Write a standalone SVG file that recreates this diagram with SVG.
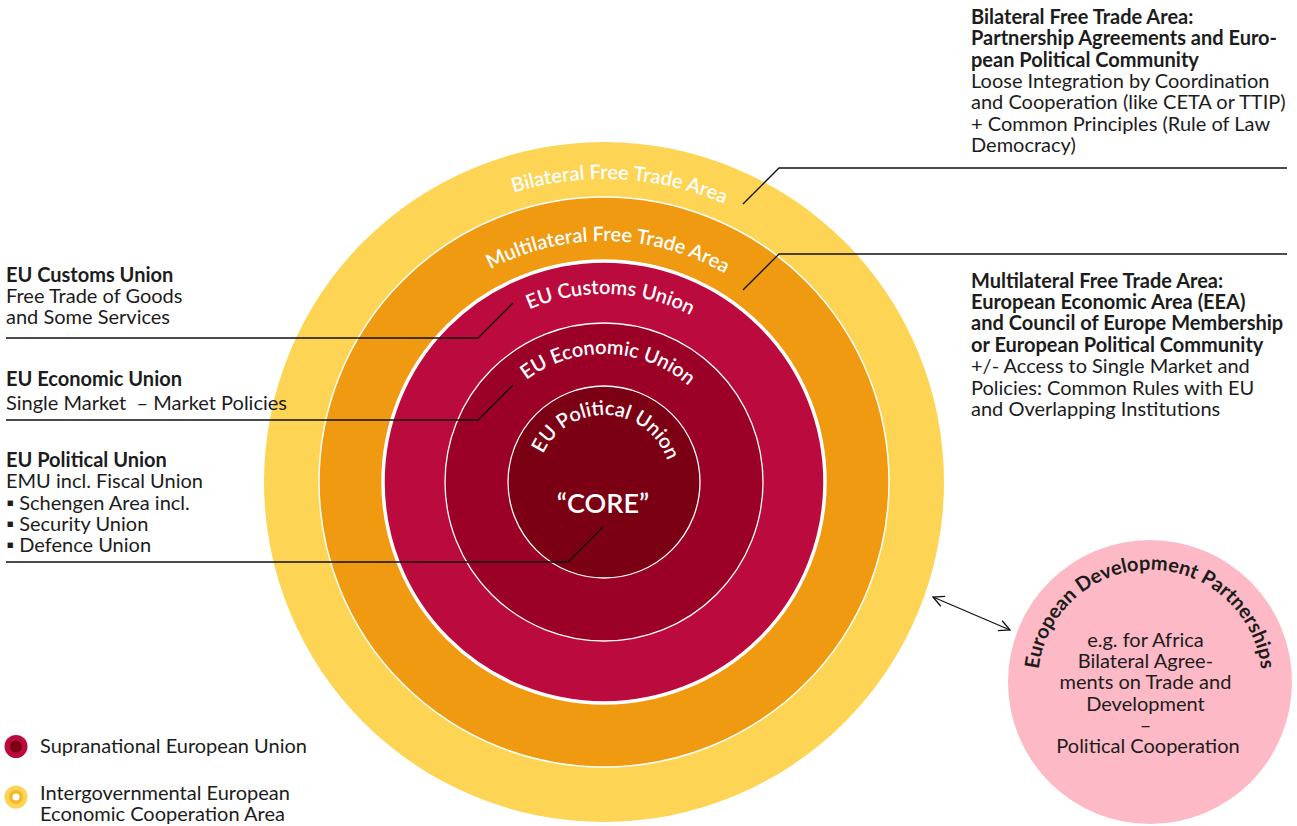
<svg xmlns="http://www.w3.org/2000/svg" width="1297" height="826" viewBox="0 0 1297 826">
<style>
text{font-family:Lato,"Liberation Sans",sans-serif;font-size:20px;fill:#1c1c1c}
.b{font-weight:700}
.ring{font-weight:600;fill:#fff}
.ring2{font-weight:700;fill:#1c1c1c}
.lead{fill:none;stroke:#111;stroke-width:1.3}
.arr{fill:none;stroke:#111;stroke-width:1.3}
</style>
<defs>
<marker id="ah" viewBox="0 0 12 12" refX="11" refY="6" markerWidth="13" markerHeight="13" markerUnits="userSpaceOnUse" orient="auto-start-reverse">
<path d="M1,1 L11,6 L1,11" fill="none" stroke="#111" stroke-width="1.2"/>
</marker>
<path id="pBil" d="M308.77,413.84 A303,303 0 0 1 904.74,445.07"/>
<path id="pMul" d="M367.43,436.01 A241,241 0 0 1 842.03,444.30"/>
<path id="pCus" d="M420.11,442.91 A188,188 0 0 1 790.17,455.84"/>
<path id="pEco" d="M478.80,455.39 A128,128 0 0 1 730.75,464.19"/>
<path id="pPol" d="M537.04,484.33 A67,67 0 1 1 670.35,491.32"/>
<path id="pDev" d="M1039.67,701.10 A112,112 0 1 1 1260.33,701.10"/>
</defs>

<g id="bilateral">
<circle cx="604" cy="482" r="340" fill="#FDD453"/>
<text class="ring"><textPath href="#pBil" startOffset="50%" text-anchor="middle">Bilateral Free Trade Area</textPath></text>
</g>
<g id="multilateral">
<circle cx="604" cy="482" r="285" fill="#EF9A10" stroke="#fff" stroke-width="1.5"/>
<text class="ring"><textPath href="#pMul" startOffset="50%" text-anchor="middle">Multilateral Free Trade Area</textPath></text>
</g>
<g id="customs">
<circle cx="604" cy="482" r="221" fill="#BB0A3D" stroke="#fff" stroke-width="3.5"/>
<text class="ring"><textPath href="#pCus" startOffset="50%" text-anchor="middle">EU Customs Union</textPath></text>
</g>
<g id="economic">
<circle cx="604" cy="482" r="159" fill="#9B0027" stroke="#fff" stroke-width="1.3"/>
<text class="ring"><textPath href="#pEco" startOffset="50%" text-anchor="middle">EU Economic Union</textPath></text>
</g>
<g id="political">
<circle cx="604" cy="482" r="96" fill="#7B0014" stroke="#fff" stroke-width="1.3"/>
<text class="ring"><textPath href="#pPol" startOffset="50%" text-anchor="middle">EU Political Union</textPath></text>
<text class="ring" x="603" y="513" text-anchor="middle" style="font-size:27px">“CORE”</text>
</g>

<g id="development">
<circle cx="1150" cy="682" r="142" fill="#FDB9C6"/>
<text class="ring2"><textPath href="#pDev" startOffset="50%" text-anchor="middle">European Development Partnerships</textPath></text>
<text x="1148" text-anchor="middle">
<tspan x="1148" y="647">e.g. for Africa</tspan>
<tspan x="1148" y="668">Bilateral Agree-</tspan>
<tspan x="1148" y="689">ments on Trade and</tspan>
<tspan x="1148" y="711">Development</tspan>
<tspan x="1148" y="732">–</tspan>
<tspan x="1148" y="753">Political Cooperation</tspan>
</text>
</g>

<g id="connectors">
<polyline class="lead" points="743,204 779,168 1287,168"/>
<polyline class="lead" points="743,290 779,254 1287,254"/>
<polyline class="lead" points="6,338 478,338 513,303"/>
<polyline class="lead" points="6,420 478,420 513,385"/>
<polyline class="lead" points="6,562 568,562 603,527"/>
<line class="arr" x1="933" y1="597" x2="1010" y2="630" marker-start="url(#ah)" marker-end="url(#ah)"/>
</g>

<g id="label-bilateral">
<text x="971" y="24"><tspan class="b" x="971" y="24">Bilateral Free Trade Area:</tspan><tspan class="b" x="971" y="45">Partnership Agreements and Euro-</tspan><tspan class="b" x="971" y="67">pean Political Community</tspan><tspan x="971" y="88">Loose Integration by Coordination</tspan><tspan x="971" y="109">and Cooperation (like CETA or TTIP)</tspan><tspan x="971" y="131">+ Common Principles (Rule of Law</tspan><tspan x="971" y="152">Democracy)</tspan></text>
</g>
<g id="label-multilateral">
<text x="971" y="288"><tspan class="b" x="971" y="288">Multilateral Free Trade Area:</tspan><tspan class="b" x="971" y="309">European Economic Area (EEA)</tspan><tspan class="b" x="971" y="330">and Council of Europe Membership</tspan><tspan class="b" x="971" y="352">or European Political Community</tspan><tspan x="971" y="373">+/- Access to Single Market and</tspan><tspan x="971" y="395">Policies: Common Rules with EU</tspan><tspan x="971" y="416">and Overlapping Institutions</tspan></text>
</g>
<g id="label-customs">
<text x="6" y="282"><tspan class="b" x="6" y="282">EU Customs Union</tspan><tspan x="6" y="303">Free Trade of Goods</tspan><tspan x="6" y="324">and Some Services</tspan></text>
</g>
<g id="label-economic">
<text x="6" y="386" xml:space="preserve"><tspan class="b" x="6" y="386">EU Economic Union</tspan><tspan x="6" y="410">Single Market  – Market Policies</tspan></text>
</g>
<g id="label-political">
<text x="6" y="467"><tspan class="b" x="6" y="467">EU Political Union</tspan><tspan x="6" y="488">EMU incl. Fiscal Union</tspan><tspan x="6" y="510">▪ Schengen Area incl.</tspan><tspan x="6" y="531">▪ Security Union</tspan><tspan x="6" y="552">▪ Defence Union</tspan></text>
</g>

<g id="legend">
<circle cx="16" cy="746.5" r="11.5" fill="#BB0A3D"/>
<circle cx="16" cy="746.5" r="6" fill="#7B0014"/>
<text x="40" y="753">Supranational European Union</text>
<circle cx="16" cy="797" r="11.5" fill="#FDD453"/>
<circle cx="16" cy="797" r="7" fill="#F6B52C"/>
<circle cx="16" cy="797" r="3.5" fill="#fff"/>
<text x="40" y="800"><tspan x="40" y="800">Intergovernmental European</tspan><tspan x="40" y="821">Economic Cooperation Area</tspan></text>
</g>
</svg>
